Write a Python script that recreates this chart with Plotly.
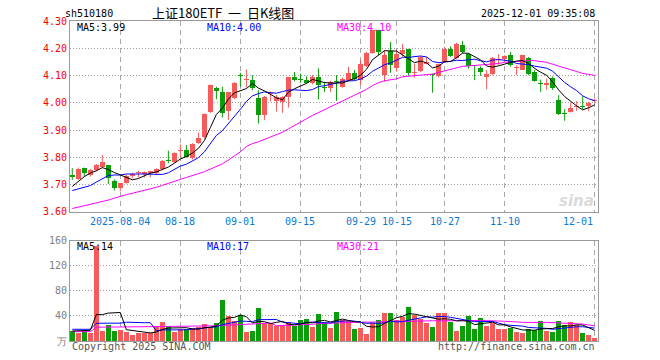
import plotly.graph_objects as go

# ---------------- data ----------------
dates = [
    "2025-07-23", "2025-07-24", "2025-07-25", "2025-07-28", "2025-07-29", "2025-07-30", "2025-07-31",
    "2025-08-01", "2025-08-04", "2025-08-05", "2025-08-06", "2025-08-07", "2025-08-08", "2025-08-11",
    "2025-08-12", "2025-08-13", "2025-08-14", "2025-08-15", "2025-08-18", "2025-08-19", "2025-08-20",
    "2025-08-21", "2025-08-22", "2025-08-25", "2025-08-26", "2025-08-27", "2025-08-28", "2025-08-29",
    "2025-09-01", "2025-09-02", "2025-09-03", "2025-09-04", "2025-09-05", "2025-09-08", "2025-09-09",
    "2025-09-10", "2025-09-11", "2025-09-12", "2025-09-15", "2025-09-16", "2025-09-17", "2025-09-18",
    "2025-09-19", "2025-09-22", "2025-09-23", "2025-09-24", "2025-09-25", "2025-09-26", "2025-09-29",
    "2025-09-30", "2025-10-09", "2025-10-10", "2025-10-13", "2025-10-14", "2025-10-15", "2025-10-16",
    "2025-10-17", "2025-10-20", "2025-10-21", "2025-10-22", "2025-10-23", "2025-10-24", "2025-10-27",
    "2025-10-28", "2025-10-29", "2025-10-30", "2025-10-31", "2025-11-03", "2025-11-04", "2025-11-05",
    "2025-11-06", "2025-11-07", "2025-11-10", "2025-11-11", "2025-11-12", "2025-11-13", "2025-11-14",
    "2025-11-17", "2025-11-18", "2025-11-19", "2025-11-20", "2025-11-21", "2025-11-24", "2025-11-25",
    "2025-11-26", "2025-11-27", "2025-11-28", "2025-12-01",
]

opens = [3.735, 3.721, 3.760, 3.735, 3.754, 3.766, 3.772, 3.713, 3.687, 3.705,
         3.733, 3.742, 3.740, 3.743, 3.741, 3.756, 3.788, 3.784, 3.823, 3.827,
         3.796, 3.854, 3.873, 3.967, 4.056, 4.038, 3.971, 4.016, 4.101, 4.083,
         4.083, 4.018, 3.955, 4.032, 4.007, 4.004, 4.020, 4.093, 4.089, 4.085,
         4.073, 4.093, 4.056, 4.053, 4.078, 4.059, 4.083, 4.110, 4.083, 4.134,
         4.184, 4.266, 4.101, 4.189, 4.126, 4.180, 4.196, 4.110, 4.117, 4.144,
         4.103, 4.098, 4.148, 4.196, 4.166, 4.211, 4.180, 4.136, 4.129, 4.093,
         4.105, 4.158, 4.159, 4.174, 4.128, 4.122, 4.166, 4.113, 4.072, 4.065,
         4.091, 4.010, 3.961, 3.967, 3.983, 3.985, 3.988, 4.005]
highs = [3.760, 3.762, 3.762, 3.757, 3.775, 3.809, 3.772, 3.719, 3.705, 3.736,
         3.743, 3.750, 3.748, 3.750, 3.760, 3.790, 3.824, 3.818, 3.847, 3.845,
         3.852, 3.891, 3.961, 4.067, 4.059, 4.059, 4.040, 4.076, 4.110, 4.122,
         4.101, 4.046, 4.025, 4.041, 4.028, 4.024, 4.095, 4.113, 4.107, 4.097,
         4.102, 4.126, 4.077, 4.081, 4.101, 4.093, 4.132, 4.120, 4.159, 4.187,
         4.268, 4.268, 4.193, 4.223, 4.195, 4.215, 4.198, 4.143, 4.171, 4.168,
         4.107, 4.143, 4.205, 4.207, 4.220, 4.227, 4.183, 4.138, 4.134, 4.120,
         4.168, 4.178, 4.174, 4.187, 4.138, 4.176, 4.168, 4.120, 4.085, 4.088,
         4.097, 4.028, 3.977, 4.000, 4.006, 4.024, 4.004, 4.016]
lows = [3.717, 3.717, 3.729, 3.729, 3.748, 3.760, 3.702, 3.678, 3.675, 3.703,
        3.722, 3.726, 3.726, 3.726, 3.735, 3.752, 3.778, 3.778, 3.801, 3.799,
        3.792, 3.849, 3.869, 3.963, 4.013, 3.946, 3.937, 4.013, 4.059, 4.056,
        4.046, 3.924, 3.937, 4.005, 3.968, 3.963, 3.983, 4.079, 4.073, 4.071,
        4.068, 4.012, 4.040, 4.040, 4.007, 4.055, 4.080, 4.083, 4.065, 4.131,
        4.180, 4.175, 4.077, 4.110, 4.114, 4.170, 4.100, 4.092, 4.113, 4.141,
        4.037, 4.093, 4.147, 4.168, 4.162, 4.180, 4.125, 4.083, 4.099, 4.049,
        4.101, 4.138, 4.150, 4.132, 4.102, 4.120, 4.101, 4.077, 4.040, 4.048,
        4.047, 3.955, 3.934, 3.964, 3.970, 3.976, 3.969, 4.001]
closes = [3.726, 3.757, 3.744, 3.754, 3.771, 3.784, 3.723, 3.689, 3.705, 3.733,
          3.737, 3.746, 3.745, 3.748, 3.756, 3.787, 3.785, 3.815, 3.826, 3.802,
          3.849, 3.871, 3.959, 4.065, 4.043, 3.961, 4.040, 4.073, 4.099, 4.087,
          4.055, 3.955, 4.022, 4.037, 4.022, 4.020, 4.093, 4.085, 4.083, 4.074,
          4.093, 4.065, 4.055, 4.077, 4.076, 4.089, 4.111, 4.089, 4.141, 4.184,
          4.266, 4.187, 4.177, 4.138, 4.180, 4.195, 4.110, 4.112, 4.168, 4.148,
          4.101, 4.141, 4.196, 4.171, 4.217, 4.187, 4.135, 4.134, 4.113, 4.105,
          4.166, 4.160, 4.171, 4.138, 4.131, 4.174, 4.107, 4.080, 4.069, 4.073,
          4.055, 3.959, 3.958, 3.980, 3.990, 3.983, 3.998, 4.012]
volumes = [16, 13.3, 16, 13, 152, 16, 25.6, 16, 17.6, 15,
           9.6, 13.3, 13.3, 13.3, 22.4, 30.4, 24, 14.4, 18.7, 18.7,
           20.3, 21.9, 26.7, 22.4, 28.8, 65.6, 40, 32, 41.6, 14.4,
           16, 52.8, 29.3, 26.7, 24, 24, 29.9, 24.5, 33.6, 35.2,
           22.4, 43.2, 29.9, 21.3, 46.9, 33.6, 32, 19.2, 21.3, 11.2,
           28.3, 33.6, 45.3, 45.3, 33.6, 38.9, 54.9, 41.6, 35.2, 28.8,
           22.9, 45.3, 45.3, 30.9, 16, 24.5, 40.5, 19.2, 37.3, 24.5,
           28.3, 19.2, 19.2, 21.3, 14.9, 13.3, 18.7, 17.6, 32, 16.5,
           14.9, 32, 25.6, 30.9, 25.6, 13.3, 9.6, 5.3]

# moving-average values before a full window exists inside the visible range
ma5_head = [3.693, 3.711, 3.729, 3.742]
ma10_head = [3.678, 3.684, 3.690, 3.696, 3.709, 3.720, 3.733, 3.735, 3.735]
ma30_head = [3.612, 3.617, 3.622, 3.627, 3.632, 3.637, 3.643, 3.650, 3.657, 3.663,
             3.668, 3.673, 3.678, 3.684, 3.690, 3.697, 3.705, 3.713, 3.719, 3.726,
             3.734, 3.740, 3.747, 3.757, 3.766, 3.776, 3.790, 3.805, 3.820]
vma5_head = [16, 16, 16, 17]
vma10_head = [18.7, 18.7, 18.7, 18.7, 28.3, 28.3, 28.3, 28.3, 28.5]
vma30_head = [14.9, 14.9, 14.9, 14.9, 22.0, 22.0, 22.3, 22.3, 22.5, 22.5,
              22.5, 22.7, 22.7, 22.9, 22.9, 23.2, 23.2, 23.4, 23.4, 23.5,
              23.7, 23.7, 24.0, 24.0, 24.3, 24.8, 25.3, 25.6, 26.0]

tick_dates = ["2025-08-04", "2025-08-18", "2025-09-01", "2025-09-15", "2025-09-29",
              "2025-10-15", "2025-10-27", "2025-11-10", "2025-12-01"]
tick_labels = ["2025-08-04", "08-18", "09-01", "09-15", "09-29", "10-15", "10-27", "11-10", "12-01"]
price_ticks = [3.60, 3.70, 3.80, 3.90, 4.00, 4.10, 4.20, 4.30]
vol_ticks = [0, 40, 80, 120, 160]
vol_tick_labels = ["万", "40", "80", "120", "160"]

ma_price_labels = ["MA5:3.99", "MA10:4.00", "MA30:4.10"]
ma_vol_labels = ["MA5:14", "MA10:17", "MA30:21"]

# ---------------- helpers ----------------
n = len(dates)
idx = list(range(n))


def rolling(values, window, head):
    out = list(head)
    for i in range(len(head), len(values)):
        out.append(sum(values[i - window + 1:i + 1]) / window)
    return out


ma5 = rolling(closes, 5, ma5_head)
ma10 = rolling(closes, 10, ma10_head)
ma30 = rolling(closes, 30, ma30_head)
vma5 = rolling(volumes, 5, vma5_head)
vma10 = rolling(volumes, 10, vma10_head)
vma30 = rolling(volumes, 30, vma30_head)

RED = "#F65A5A"
GREEN = "#0A9E0A"
up = [c >= o for o, c in zip(opens, closes)]
colors = [RED if u else GREEN for u in up]

MONO = "DejaVu Sans Mono"
CJK = "Noto Sans CJK SC"

# layout geometry (pixels)
W, H = 660, 360
ML, MR, MT, MB = 70, 62, 21, 19
plot_h = H - MT - MB
price_bottom = (341 - 211.8) / plot_h
vol_top = (341 - 240.7) / plot_h


def py(ypx):
    return (H - MB - ypx) / plot_h


def px(xpx):
    return (xpx - ML) / (W - ML - MR)


fig = go.Figure()

# wicks
for flag, col in ((True, RED), (False, GREEN)):
    xs, ys = [], []
    for i in idx:
        if up[i] == flag:
            xs += [i, i, None]
            ys += [lows[i], highs[i], None]
    fig.add_trace(go.Scatter(x=xs, y=ys, mode="lines", line=dict(color=col, width=1),
                             xaxis="x", yaxis="y", hoverinfo="skip", showlegend=False))

# bodies
body_base = [min(o, c) for o, c in zip(opens, closes)]
body_h = [max(abs(c - o), 0.0035) for o, c in zip(opens, closes)]
fig.add_trace(go.Bar(x=idx, y=body_h, base=body_base, width=0.84,
                     marker=dict(color=colors, line=dict(width=0)),
                     xaxis="x", yaxis="y", hoverinfo="skip", showlegend=False))

# price MAs
for vals, col in ((ma30, "#FF00FF"), (ma10, "#0000FF"), (ma5, "#000000")):
    fig.add_trace(go.Scatter(x=idx, y=vals, mode="lines", line=dict(color=col, width=1),
                             xaxis="x", yaxis="y", hoverinfo="skip", showlegend=False))

# volume bars
fig.add_trace(go.Bar(x=idx, y=volumes, width=0.84,
                     marker=dict(color=colors, line=dict(width=0)),
                     xaxis="x2", yaxis="y2", hoverinfo="skip", showlegend=False))
for vals, col in ((vma30, "#FF00FF"), (vma10, "#0000FF"), (vma5, "#000000")):
    fig.add_trace(go.Scatter(x=idx, y=vals, mode="lines", line=dict(color=col, width=1),
                             xaxis="x2", yaxis="y2", hoverinfo="skip", showlegend=False))

tickpos = [dates.index(d) for d in tick_dates]
xr = [-0.38, n - 1 + 0.55]
axis_common = dict(showline=True, mirror=True, linecolor="#9A9A9A", linewidth=1,
                   zeroline=False, fixedrange=True)

fig.update_layout(
    width=W, height=H,
    margin=dict(l=ML, r=MR, t=MT, b=MB, pad=0),
    paper_bgcolor="white", plot_bgcolor="white",
    barmode="overlay", bargap=0,
    showlegend=False,
    font=dict(family=MONO, size=10, color="#000000"),
    xaxis=dict(domain=[0, 1], range=xr, anchor="y", tickmode="array", tickvals=tickpos,
               showticklabels=False, ticks="", showgrid=True, gridcolor="#A8A8A8",
               griddash="5px,4px", gridwidth=1, **axis_common),
    yaxis=dict(domain=[price_bottom, 1], range=[3.60, 4.30], anchor="x", tickmode="array",
               tickvals=price_ticks, ticktext=["%.2f" % v for v in price_ticks],
               tickfont=dict(family=MONO, size=10, color="#FF0000"), ticks="",
               showgrid=True, gridcolor="#A0A0A0", griddash="1px,2px", gridwidth=1,
               **axis_common),
    xaxis2=dict(domain=[0, 1], range=xr, anchor="y2", matches="x", tickmode="array",
                tickvals=tickpos, showticklabels=False, ticks="", showgrid=True,
                gridcolor="#A8A8A8", griddash="5px,4px", gridwidth=1, **axis_common),
    yaxis2=dict(domain=[0, vol_top], range=[0, 160], anchor="x2", tickmode="array",
                tickvals=vol_ticks, ticktext=vol_tick_labels,
                tickfont=dict(family=MONO, size=10, color="#808080"), ticks="",
                showgrid=True, gridcolor="#A0A0A0", griddash="1px,2px", gridwidth=1,
                **axis_common),
)

ann = []
# x labels under price panel
for i, (p, lab) in enumerate(zip(tickpos, tick_labels)):
    last = i == len(tickpos) - 1
    ann.append(dict(x=p + (0.1 if last else 0), y=price_bottom, xref="x", yref="paper",
                    text=lab, showarrow=False, xanchor="right" if last else "center",
                    yanchor="middle", yshift=-9.5,
                    font=dict(family=MONO, size=10, color="#0A7AD2")))

# header
ann.append(dict(x=px(63), y=py(13), xref="paper", yref="paper", text="sh510180", showarrow=False,
                xanchor="left", yanchor="middle", font=dict(family=MONO, size=10, color="#000")))
ann.append(dict(x=px(150), y=py(12.5), xref="paper", yref="paper",
                text="上证180ETF&nbsp;&nbsp;一&nbsp;&nbsp;日K线图",
                showarrow=False, xanchor="left", yanchor="middle",
                font=dict(family=CJK, size=13, color="#000")))
ann.append(dict(x=px(597), y=py(13), xref="paper", yref="paper", text="2025-12-01 09:35:08",
                showarrow=False, xanchor="right", yanchor="middle",
                font=dict(family=MONO, size=10, color="#000")))

ma_cols = ["#000000", "#0000FF", "#FF00FF"]
ma_x = [74.5, 205, 334.6]
for lab, col, xx in zip(ma_price_labels, ma_cols, ma_x):
    ann.append(dict(x=px(xx), y=py(27), xref="paper", yref="paper", text=lab, showarrow=False,
                    xanchor="left", yanchor="middle", font=dict(family=MONO, size=10, color=col)))
for lab, col, xx in zip(ma_vol_labels, ma_cols, ma_x):
    ann.append(dict(x=px(xx), y=py(246.7), xref="paper", yref="paper", text=lab, showarrow=False,
                    xanchor="left", yanchor="middle", font=dict(family=MONO, size=10, color=col)))

ann.append(dict(x=px(70), y=py(346), xref="paper", yref="paper", text="Copyright 2025 SINA.COM",
                showarrow=False, xanchor="left", yanchor="middle",
                font=dict(family=MONO, size=10, color="#555555")))
ann.append(dict(x=px(597), y=py(346), xref="paper", yref="paper", text="http://finance.sina.com.cn",
                showarrow=False, xanchor="right", yanchor="middle",
                font=dict(family=MONO, size=10, color="#555555")))
ann.append(dict(x=px(596), y=py(201), xref="paper", yref="paper", text="<b><i>sina</i></b>",
                showarrow=False, xanchor="right", yanchor="middle", opacity=0.35,
                font=dict(family="DejaVu Sans", size=15, color="#999999")))

fig.update_layout(annotations=ann)

fig.write_html("out.html", config={"displayModeBar": False, "staticPlot": True},
               post_script="document.body.style.margin='0px';document.body.style.overflow='hidden';")
